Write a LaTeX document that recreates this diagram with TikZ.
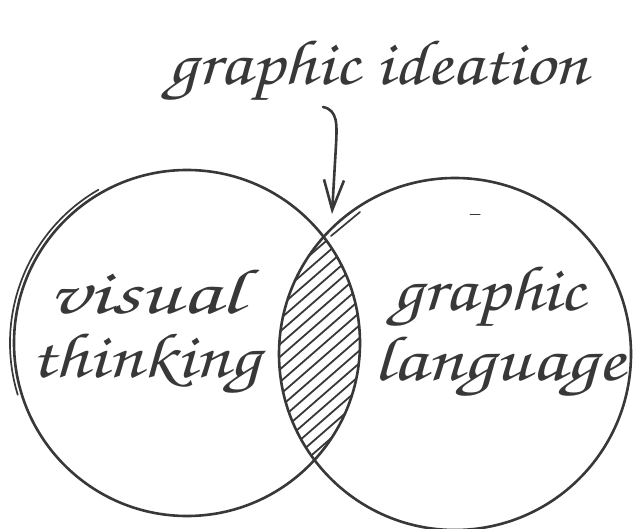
\documentclass[tikz,border=0pt]{standalone}
\usepackage[T1]{fontenc}
\usetikzlibrary{arrows.meta}
\definecolor{ink}{HTML}{383838}
\newcommand\handfont{\fontfamily{pzc}\fontseries{mb}\fontshape{it}\selectfont}
\newcommand\wide[2]{\scalebox{#1}[1]{#2}}
\tikzset{
  venn/.style={circle, draw=ink, line width=2.6pt, inner sep=0pt},
  hand/.style={text=ink, inner sep=0pt, font=\handfont\fontsize{64}{64}\selectfont},
  hatchline/.style={draw=ink, line width=1.8pt},
  pen/.style={draw=ink, line width=2.6pt, line cap=round}
}
\begin{document}
\begin{tikzpicture}[x=1pt,y=-1pt]
\useasboundingbox (0,0) rectangle (634,529);
\fill[white] (0,0) rectangle (634,529);
% circles
\node[venn, minimum size=346pt] (L) at (187,343) {};
\node[venn, minimum size=352pt] (R) at (455,354) {};
% hatching of the lens
\begin{scope}
  \clip (187,343) circle[radius=173];
  \clip (455,354) circle[radius=176];
  \foreach \i in {-9,...,9}{
    \draw[hatchline] (319+6.23*\i-113, 348+7.17*\i+98.4) -- (319+6.23*\i+113, 348+7.17*\i-98.4);
  }
\end{scope}
% extra pen strokes
\draw[pen, line width=1.7pt] (187,343) ++(163:177) arc[start angle=163, end angle=240, radius=177];
\draw[pen, line width=1.7pt] (331,236) -- (360,212);
\draw[pen, line width=1pt] (470,215) -- (480,215);
% labels
\node[hand, anchor=base] (title) at (378,85) {\wide{1.16}{graphic ideation}};
\node[hand, anchor=base west] (vis) at (48,313) {\wide{1.43}{visual}};
\node[hand, anchor=base west] (think) at (30,377) {\wide{1.2}{thinking}};
\node[hand, anchor=base west] (graph) at (392,310) {\wide{1.17}{graphic}};
\node[hand, anchor=base west] (lang) at (373,380) {\wide{1.25}{language}};
% arrow
\coordinate (astart) at (323,107);
\coordinate (lenstop) at (332,214);
\draw[pen, -{Straight Barb[length=30pt,width=20pt]}] (astart) .. controls (338,110) and (337,125) .. (336,145) -- (lenstop);
\end{tikzpicture}
\end{document}
